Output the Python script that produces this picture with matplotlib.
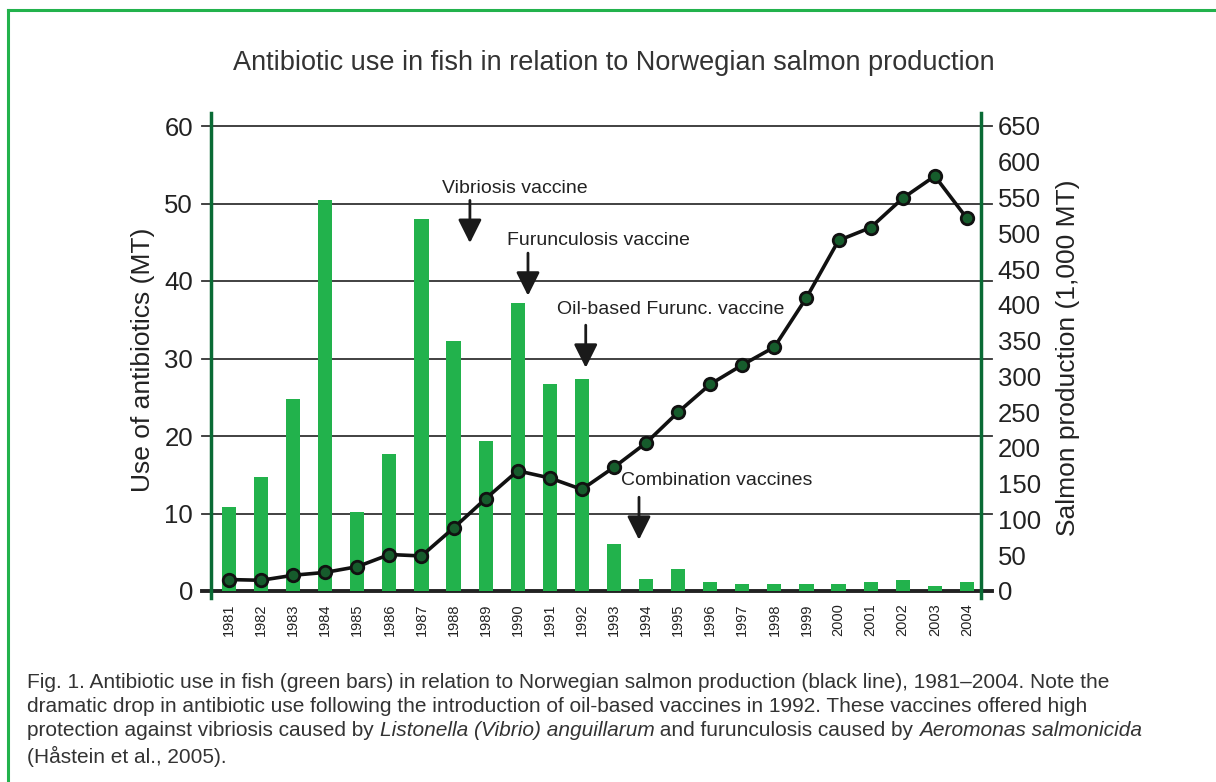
import matplotlib
matplotlib.use("Agg")
import matplotlib.pyplot as plt
from matplotlib.lines import Line2D

# data
years = list(range(1981, 2005))
antibiotics = [10.8, 14.7, 24.8, 50.5, 10.2, 17.7, 48.0, 32.3, 19.4, 37.2, 26.7, 27.4,
               6.1, 1.6, 2.9, 1.2, 0.85, 0.85, 0.95, 0.95, 1.1, 1.4, 0.7, 1.2]
salmon = [16, 15, 22, 26, 34, 51, 49, 88, 129, 168, 158, 142,
          173, 207, 250, 289, 316, 341, 410, 490, 508, 549, 580, 521]
left_ticks = [0, 10, 20, 30, 40, 50, 60]
right_ticks = list(range(0, 651, 50))

# annotations: label, text pos (x, y), arrow x, arrow top, arrow tip, alignment
notes = [
    ("Vibriosis vaccine", 8.91, 51.9, 7.51, 50.4, 44.9, "center"),
    ("Furunculosis vaccine", 8.66, 45.2, 9.32, 43.6, 38.1, "left"),
    ("Oil-based Furunc. vaccine", 10.22, 36.3, 11.12, 34.3, 28.8, "left"),
    ("Combination vaccines", 12.22, 14.3, 12.78, 12.1, 6.6, "left"),
]

bar_green = "#22b24c"
spine_green = "#0a6b35"
txt = "#222222"

plt.rcParams['font.family'] = ['Liberation Sans', 'DejaVu Sans']

fig = plt.figure(figsize=(12.16, 7.82), dpi=100)
ax = fig.add_axes([211 / 1216, 1 - 591 / 782, 770 / 1216, 465 / 782])
ax2 = ax.twinx()

x = list(range(len(years)))
ax.bar(x, antibiotics, width=0.44, color=bar_green, zorder=3)
ax.set_xlim(-0.56, 23.44)
ax.set_ylim(0, 60)
ax2.set_ylim(0, 650)

# gridlines run a little past both spines
for v in left_ticks:
    ax.plot([-0.85, 23.78], [v, v], color="#333333" if v else "#222222",
            lw=1.3 if v else 2.8, clip_on=False, zorder=2)

ax2.plot(x, salmon, color="#111111", lw=2.6, marker="o", ms=9,
         mfc="#165c2c", mec="#111111", mew=2, zorder=5)

for s in ["top", "bottom", "left", "right"]:
    ax.spines[s].set_visible(False)
    ax2.spines[s].set_visible(False)
for xs in (0, 1):
    ax.add_line(Line2D([xs, xs], [-0.016, 1.028], transform=ax.transAxes,
                       color=spine_green, lw=2.5, clip_on=False, zorder=6))

ax.set_yticks(left_ticks)
ax.set_yticklabels([str(v) for v in left_ticks], fontsize=18.5, color=txt)
ax.tick_params(axis="y", length=0, pad=13)
ax2.set_yticks(right_ticks)
ax2.set_yticklabels([str(v) for v in right_ticks], fontsize=18.5, color=txt)
ax2.tick_params(axis="y", length=0, pad=12)

ax.set_xticks(x)
ax.set_xticklabels([str(y) for y in years], rotation=90, fontsize=10.5, color=txt)
ax.tick_params(axis="x", length=0, pad=9)

for label, tx, ty, axx, a0, a1, ha in notes:
    ax.text(tx, ty, label, fontsize=14, color=txt, ha=ha, va="center", zorder=7)
    ax.annotate("", xy=(axx, a1), xytext=(axx, a0),
                arrowprops=dict(arrowstyle="-|>,head_length=0.6,head_width=0.3",
                                mutation_scale=24, lw=2, color="#1a1a1a",
                                shrinkA=0, shrinkB=0), zorder=7)

fig.text(614 / 1216, 1 - 63 / 782, "Antibiotic use in fish in relation to Norwegian salmon production",
         fontsize=19.5, color="#333333", ha="center", va="center")
fig.text(143 / 1216, 1 - 360 / 782, "Use of antibiotics (MT)", fontsize=19,
         color=txt, rotation=90, ha="center", va="center")
fig.text(1068 / 1216, 1 - 358 / 782, "Salmon production (1,000 MT)", fontsize=19,
         color=txt, rotation=90, ha="center", va="center")

# green frame round the figure
fig.add_artist(Line2D([8 / 1216, 8 / 1216], [0, 1 - 10 / 782], color=bar_green, lw=2.2))
fig.add_artist(Line2D([8 / 1216, 1], [1 - 10 / 782, 1 - 10 / 782], color=bar_green, lw=2.2))

# caption, italic parts chained after the plain ones
cap_lines = [
    [("Fig. 1. Antibiotic use in fish (green bars) in relation to Norwegian salmon production (black line), 1981\u20132004. Note the", "normal")],
    [("dramatic drop in antibiotic use following the introduction of oil-based vaccines in 1992. These vaccines offered high", "normal")],
    [("protection against vibriosis caused by ", "normal"), ("Listonella (Vibrio) anguillarum", "italic"),
     (" and furunculosis caused by ", "normal"), ("Aeromonas salmonicida", "italic")],
    [("(H\u00e5stein et al., 2005).", "normal")],
]
cap_y = [682, 707, 731, 756]
for parts, yy in zip(cap_lines, cap_y):
    prev = None
    for s, style in parts:
        if prev is None:
            prev = fig.text(27 / 1216, 1 - yy / 782, s, fontsize=15, color="#333333",
                            style=style, va="center", ha="left")
        else:
            prev = ax.annotate(s, xy=(1, 0), xycoords=prev, fontsize=15, color="#333333",
                               style=style, va="bottom", ha="left", annotation_clip=False)

fig.savefig("out.png", dpi=100)
